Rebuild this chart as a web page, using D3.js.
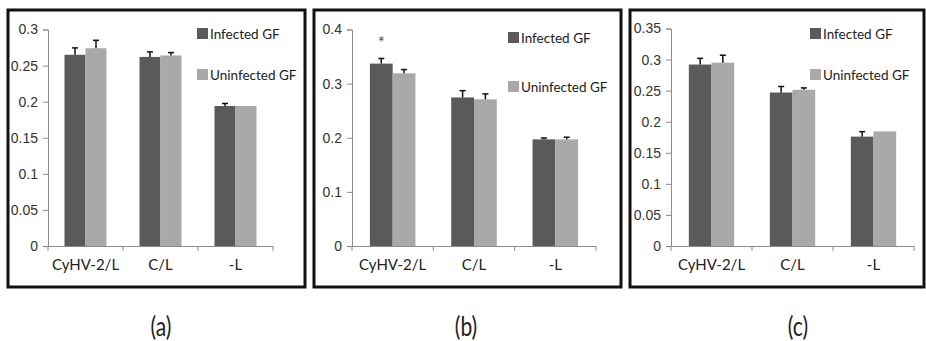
<!DOCTYPE html>
<html>
<head>
<meta charset="utf-8">
<script src="https://cdn.jsdelivr.net/npm/d3@7"></script>
<style>
  body { margin: 0; background: #fff; }
  svg { display: block; font-family: Lato, "Liberation Sans", sans-serif; }
</style>
</head>
<body>
<div id="chart"></div>
<script>
const width = 926;
const height = 341;

// data
const categories = ["CyHV-2/L", "C/L", "-L"];
const seriesNames = ["Infected GF", "Uninfected GF"];
const panelLabels = ["(a)", "(b)", "(c)"];

const infectedA = [0.265, 0.262, 0.194];
const infectedErrA = [0.0095, 0.007, 0.0035];
const uninfectedA = [0.274, 0.264, 0.194];
const uninfectedErrA = [0.011, 0.004, 0];

const infectedB = [0.337, 0.2745, 0.197];
const infectedErrB = [0.0095, 0.0125, 0.0025];
const uninfectedB = [0.319, 0.271, 0.197];
const uninfectedErrB = [0.007, 0.010, 0.004];

const infectedC = [0.292, 0.247, 0.176];
const infectedErrC = [0.010, 0.0097, 0.008];
const uninfectedC = [0.295, 0.2514, 0.1844];
const uninfectedErrC = [0.012, 0.003, 0];

const yTicksA = [0, 0.05, 0.1, 0.15, 0.2, 0.25, 0.3];
const yTicksB = [0, 0.1, 0.2, 0.3, 0.4];
const yTicksC = [0, 0.05, 0.1, 0.15, 0.2, 0.25, 0.3, 0.35];

const colors = ["#5a5a5a", "#a9a9a9"];

// layout of each panel (box, axis extent, legend spot)
const panels = [
  { box: [8, 10, 305, 287], x0: 48, x1: 273, top: 29.5, ticks: yTicksA,
    vals: [infectedA, uninfectedA], errs: [infectedErrA, uninfectedErrA],
    legX: 197, legY: [28, 69], labelX: 161 },
  { box: [314, 10, 621, 287], x0: 352, x1: 596, top: 29.5, ticks: yTicksB,
    vals: [infectedB, uninfectedB], errs: [infectedErrB, uninfectedErrB],
    legX: 508, legY: [32, 81], labelX: 466, star: 0 },
  { box: [630, 10, 924, 287], x0: 671, x1: 914, top: 28.5, ticks: yTicksC,
    vals: [infectedC, uninfectedC], errs: [infectedErrC, uninfectedErrC],
    legX: 810, legY: [28, 69], labelX: 798 }
];
const yBottom = 246;

const svg = d3.select("#chart")
  .append("svg")
  .attr("width", width)
  .attr("height", height)
  .attr("viewBox", [0, 0, width, height]);

panels.forEach((p, pi) => {
  const g = svg.append("g");

  // frame
  g.append("rect")
    .attr("x", p.box[0]).attr("y", p.box[1])
    .attr("width", p.box[2] - p.box[0]).attr("height", p.box[3] - p.box[1])
    .attr("fill", "none").attr("stroke", "#111").attr("stroke-width", 3);

  const yMax = d3.max(p.ticks);
  const y = d3.scaleLinear().domain([0, yMax]).range([yBottom, p.top]);
  const x = d3.scaleBand().domain(categories).range([p.x0, p.x1]).padding(0);
  const bw = x.bandwidth();
  const xs = d3.scaleBand().domain(seriesNames).range([bw * 0.22, bw * 0.78]).padding(0);

  // y axis
  const yAxis = g.append("g")
    .attr("transform", `translate(${p.x0},0)`)
    .call(d3.axisLeft(y).tickValues(p.ticks).tickSize(5).tickPadding(5)
      .tickFormat(d => d3.format("")(+d.toFixed(2))));
  yAxis.select(".domain").attr("stroke", "#8c8c8c");
  yAxis.selectAll(".tick line").attr("stroke", "#8c8c8c");
  yAxis.selectAll(".tick text").attr("fill", "#333").style("font-size", "14px");

  // bars
  seriesNames.forEach((s, si) => {
    const rows = categories.map((c, ci) => ({ c, v: p.vals[si][ci], e: p.errs[si][ci] }));
    g.append("g").selectAll("rect")
      .data(rows)
      .join("rect")
      .attr("x", d => x(d.c) + xs(s))
      .attr("y", d => y(d.v))
      .attr("width", xs.bandwidth())
      .attr("height", d => y(0) - y(d.v))
      .attr("fill", colors[si]);

    const eb = g.append("g").attr("stroke", "#111").attr("stroke-width", 1.5);
    rows.filter(d => d.e > 0).forEach(d => {
      const cx = x(d.c) + xs(s) + xs.bandwidth() / 2;
      eb.append("line").attr("x1", cx).attr("x2", cx)
        .attr("y1", y(d.v)).attr("y2", y(d.v + d.e));
      eb.append("line").attr("x1", cx - 3).attr("x2", cx + 3)
        .attr("y1", y(d.v + d.e)).attr("y2", y(d.v + d.e));
    });
  });

  // x axis with ticks between categories
  const xAxisG = g.append("g").attr("stroke", "#8c8c8c");
  xAxisG.append("line").attr("x1", p.x0).attr("x2", p.x1)
    .attr("y1", yBottom + 0.5).attr("y2", yBottom + 0.5);
  categories.forEach((c, ci) => {
    const tx = ci === 0 ? p.x0 : x(c);
    xAxisG.append("line").attr("x1", tx).attr("x2", tx)
      .attr("y1", yBottom).attr("y2", yBottom + 5);
  });
  xAxisG.append("line").attr("x1", p.x1).attr("x2", p.x1)
    .attr("y1", yBottom).attr("y2", yBottom + 5);

  g.append("g").selectAll("text")
    .data(categories)
    .join("text")
    .attr("x", d => x(d) + bw / 2)
    .attr("y", 270)
    .attr("text-anchor", "middle")
    .attr("fill", "#222")
    .style("font-size", "15px")
    .text(d => d);

  // legend
  seriesNames.forEach((s, si) => {
    g.append("rect")
      .attr("x", p.legX).attr("y", p.legY[si])
      .attr("width", 11).attr("height", 11)
      .attr("fill", colors[si]);
    g.append("text")
      .attr("x", p.legX + 13).attr("y", p.legY[si] + 11)
      .attr("fill", "#222")
      .style("font-size", "13.5px")
      .text(s);
  });

  // significance mark
  if (p.star !== undefined) {
    const c = categories[p.star];
    g.append("text")
      .attr("x", x(c) + xs(seriesNames[0]) + xs.bandwidth() / 2)
      .attr("y", 49)
      .attr("text-anchor", "middle")
      .attr("fill", "#555")
      .style("font-size", "17px")
      .text("*");
  }

  // panel label
  svg.append("text")
    .attr("transform", `translate(${p.labelX},336) scale(0.78,1)`)
    .attr("text-anchor", "middle")
    .attr("fill", "#222")
    .style("font-size", "27px")
    .text(panelLabels[pi]);
});
</script>
</body>
</html>
